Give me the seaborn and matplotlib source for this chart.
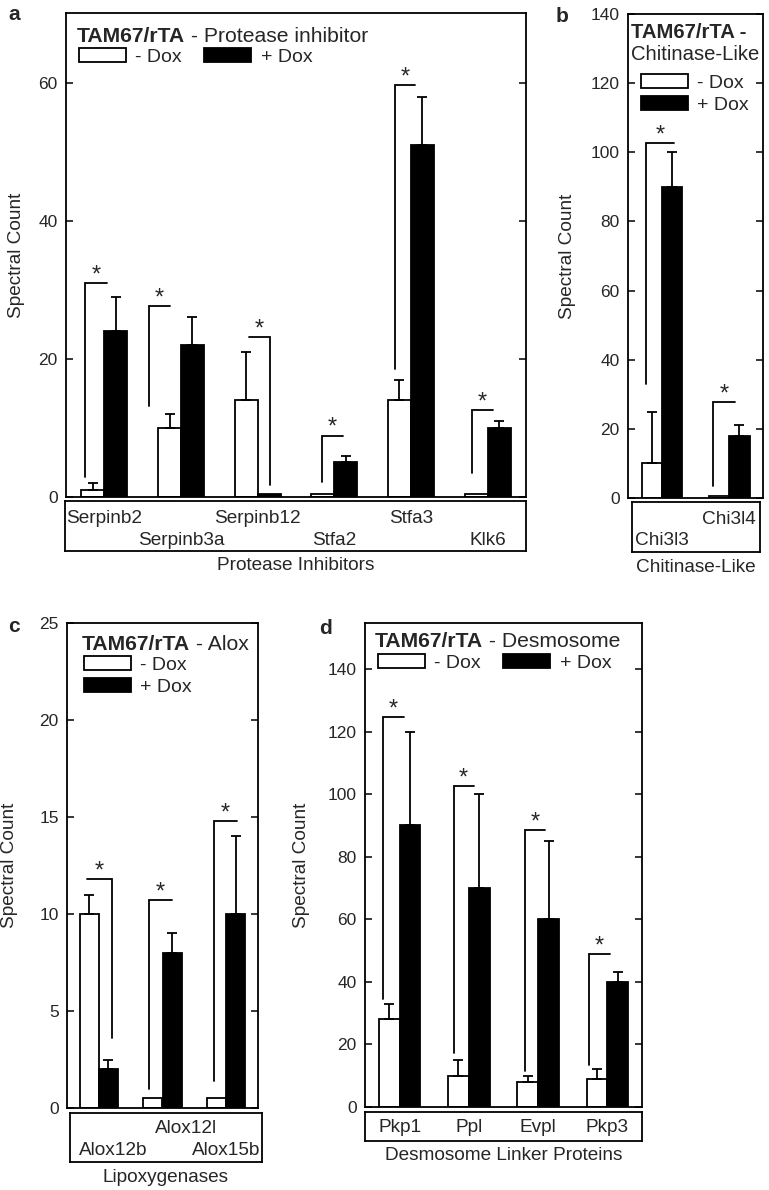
import numpy as np
import pandas as pd
import matplotlib
matplotlib.use("Agg")
import matplotlib.pyplot as plt
import seaborn as sns
from matplotlib.patches import Patch
from matplotlib.transforms import blended_transform_factory

# ---------------- data ----------------
conds = ["- Dox", "+ Dox"]

a_genes = ["Serpinb2", "Serpinb3a", "Serpinb12", "Stfa2", "Stfa3", "Klk6"]
a_minus = [1, 10, 14, 0.5, 14, 0.5]
a_minus_top = [2, 12, 21, np.nan, 17, np.nan]
a_plus = [24, 22, 0.5, 5, 51, 10]
a_plus_top = [29, 26, np.nan, 6, 58, 11]

b_genes = ["Chi3l3", "Chi3l4"]
b_minus = [10, 0.5]
b_minus_top = [25, np.nan]
b_plus = [90, 18]
b_plus_top = [100, 21]

c_genes = ["Alox12b", "Alox12l", "Alox15b"]
c_minus = [10, 0.5, 0.5]
c_minus_top = [11, np.nan, np.nan]
c_plus = [2, 8, 10]
c_plus_top = [2.5, 9, 14]

d_genes = ["Pkp1", "Ppl", "Evpl", "Pkp3"]
d_minus = [28, 10, 8, 9]
d_minus_top = [33, 15, 10, 12]
d_plus = [90, 70, 60, 40]
d_plus_top = [120, 100, 85, 43]

# significance brackets: (top value, leg bottom value, leg side)
a_sig = [(31, 2.9, "L"), (27.7, 13.2, "L"), (23.2, 1.7, "R"), (8.9, 2.2, "L"), (59.6, 18.5, "L"), (12.6, 3.5, "L")]
b_sig = [(102.6, 33, "L"), (27.7, 3.6, "L")]
c_sig = [(11.8, 3.6, "R"), (10.7, 1.0, "L"), (14.8, 1.4, "L")]
d_sig = [(124.5, 34.5, "L"), (102.7, 17.2, "L"), (88.5, 11.6, "L"), (48.9, 13.4, "L")]

# ---------------- style ----------------
sns.set_style("ticks")
plt.rcParams["font.family"] = ["Liberation Sans", "DejaVu Sans"]

W, H = 769, 1190
fig = plt.figure(figsize=(W / 100, H / 100), dpi=100)

FS_TICK = 12.5
FS_BODY = 13.7
FS_LEG = 14
FS_TITLE = 15.2
FS_STAR = 17
LW = 1.3


def frect(l, t, r, b):
    return [l / W, 1 - b / H, (r - l) / W, (b - t) / H]


def fx(x):
    return x / W


def fy(y):
    return 1 - y / H


def draw_panel(axbox, genes, minus, minus_top, plus, plus_top, ylim, yticks, sig, spans):
    ax = fig.add_axes(frect(*axbox))
    n = len(genes)
    df = pd.DataFrame({
        "gene": genes * 2,
        "cond": [conds[0]] * n + [conds[1]] * n,
        "value": list(minus) + list(plus),
    })
    sns.barplot(data=df, x="gene", y="value", hue="cond", order=genes, hue_order=conds,
                palette={conds[0]: "white", conds[1]: "black"}, edgecolor="black",
                linewidth=LW, width=0.6, errorbar=None, saturation=1, legend=False, ax=ax)
    for cont, tops in zip(ax.containers, [minus_top, plus_top]):
        for bar, top in zip(cont, tops):
            if np.isnan(top):
                continue
            x = bar.get_x() + bar.get_width() / 2
            h = bar.get_height()
            ax.errorbar([x], [h], yerr=[[0], [top - h]], fmt="none", ecolor="black",
                        elinewidth=LW, capsize=3.5, capthick=LW)
    # brackets
    for i, ((ytop, ybot, side), (xl, xr)) in enumerate(zip(sig, spans)):
        x0, x1 = i + xl, i + xr
        if side == "L":
            ax.plot([x0, x0, x1], [ybot, ytop, ytop], color="black", lw=LW, solid_joinstyle="miter")
        else:
            ax.plot([x0, x1, x1], [ytop, ytop, ybot], color="black", lw=LW, solid_joinstyle="miter")
        ax.annotate("*", xy=((x0 + x1) / 2, ytop), xytext=(0, -2.5), textcoords="offset points",
                    ha="center", va="bottom", fontsize=FS_STAR)
    ax.set_xlim(-0.5, n - 0.5)
    ax.set_ylim(*ylim)
    ax.set_yticks(yticks)
    ax.set_xticks([])
    ax.set_xlabel("")
    ax.set_ylabel("")
    ax.tick_params(axis="y", direction="in", length=5, width=LW, right=True, left=True,
                   labelsize=FS_TICK, pad=6)
    for s in ax.spines.values():
        s.set_visible(True)
        s.set_linewidth(LW)
        s.set_color("black")
    return ax


def label_box(ax, boxrect, labels, xpos, ypos, xlabel, xlabel_y, ylabel, ylabel_x):
    bx = fig.add_axes(frect(*boxrect))
    bx.set_xticks([])
    bx.set_yticks([])
    bx.set_facecolor("none")
    for s in bx.spines.values():
        s.set_linewidth(LW)
        s.set_color("black")
    tr = blended_transform_factory(ax.transData, bx.transAxes)
    for lab, x, y in zip(labels, xpos, ypos):
        bx.text(x, y, lab, transform=tr, ha="center", va="baseline", fontsize=FS_BODY)
    l, t, r, b = boxrect
    fig.text(fx((l + r) / 2), fy(xlabel_y), xlabel, ha="center", va="center", fontsize=FS_BODY)
    fig.text(fx(ylabel_x), (ax.get_position().y0 + ax.get_position().y1) / 2, ylabel,
             rotation=90, ha="center", va="center", fontsize=FS_BODY)


def title(x, y, rest):
    t1 = fig.text(fx(x), fy(y), "TAM67/rTA", fontweight="bold", fontsize=FS_TITLE,
                  ha="left", va="baseline")
    fig.canvas.draw()
    bb = t1.get_window_extent(renderer=fig.canvas.get_renderer())
    fig.text(bb.x1 / fig.bbox.width, fy(y), rest, fontsize=FS_TITLE, ha="left", va="baseline")


def legend(ax, x, y, ncol):
    handles = [Patch(facecolor="white", edgecolor="black", linewidth=LW, label=conds[0]),
               Patch(facecolor="black", edgecolor="black", linewidth=LW, label=conds[1])]
    ax.legend(handles=handles, loc="upper left", bbox_to_anchor=(fx(x), fy(y)),
              bbox_transform=fig.transFigure, ncol=ncol, frameon=False, fontsize=FS_LEG,
              handlelength=2.4, handleheight=0.72, handletextpad=0.5, columnspacing=1.15,
              borderpad=0, borderaxespad=0, labelspacing=0.22)


# ---- panel a ----
axa = draw_panel((66, 13, 526, 497), a_genes, a_minus, a_minus_top, a_plus, a_plus_top,
                 (0, 70.1), [0, 20, 40, 60], a_sig,
                 [(-0.25, 0.03), (-0.42, -0.15), (-0.11, 0.16), (-0.16, 0.11), (-0.21, 0.05), (-0.21, 0.07)])
label_box(axa, (65, 501, 526, 551), a_genes, range(6), [0.56, 0.12] * 3,
          "Protease Inhibitors", 566, "Spectral Count", 17)
title(77, 42, " - Protease inhibitor")
legend(axa, 79, 48, 2)
fig.text(fx(14), fy(14), "a", fontweight="bold", fontsize=15, ha="center", va="center")

# ---- panel b ----
axb = draw_panel((628, 14, 763, 498), b_genes, b_minus, b_minus_top, b_plus, b_plus_top,
                 (0, 140), list(range(0, 141, 20)), b_sig,
                 [(-0.23, 0.18), (-0.24, 0.09)])
label_box(axb, (632, 502, 760, 552), b_genes, [0, 1], [0.14, 0.56],
          "Chitinase-Like", 567, "Spectral Count", 567)
fig.text(fx(631), fy(38), "TAM67/rTA -", fontweight="bold", fontsize=14.6, ha="left", va="baseline")
fig.text(fx(631), fy(60), "Chitinase-Like", fontsize=14.6, ha="left", va="baseline")
legend(axb, 641, 74, 1)
fig.text(fx(562), fy(17), "b", fontweight="bold", fontsize=15, ha="center", va="center")

# ---- panel c ----
axc = draw_panel((67, 623, 258, 1108), c_genes, c_minus, c_minus_top, c_plus, c_plus_top,
                 (0, 25), [0, 5, 10, 15, 20, 25], c_sig,
                 [(-0.19, 0.21), (-0.21, 0.15), (-0.19, 0.17)])
label_box(axc, (70, 1113, 262, 1162), c_genes, [0.22, 1.37, 2.0], [0.14, 0.6, 0.14],
          "Lipoxygenases", 1177, "Spectral Count", 10)
title(82, 650, " - Alox")
legend(axc, 84, 656, 1)
fig.text(fx(14), fy(626), "c", fontweight="bold", fontsize=15, ha="center", va="center")

# ---- panel d ----
axd = draw_panel((365, 623, 642, 1107), d_genes, d_minus, d_minus_top, d_plus, d_plus_top,
                 (0, 154.7), list(range(0, 141, 20)), d_sig,
                 [(-0.24, 0.06), (-0.22, 0.07), (-0.19, 0.10), (-0.27, 0.04)])
label_box(axd, (365, 1112, 642, 1141), d_genes, range(4), [0.31] * 4,
          "Desmosome Linker Proteins", 1156, "Spectral Count", 302)
title(375, 647, " - Desmosome")
legend(axd, 378, 654, 2)
fig.text(fx(326), fy(628), "d", fontweight="bold", fontsize=15, ha="center", va="center")

fig.savefig("out.png", dpi=100)
